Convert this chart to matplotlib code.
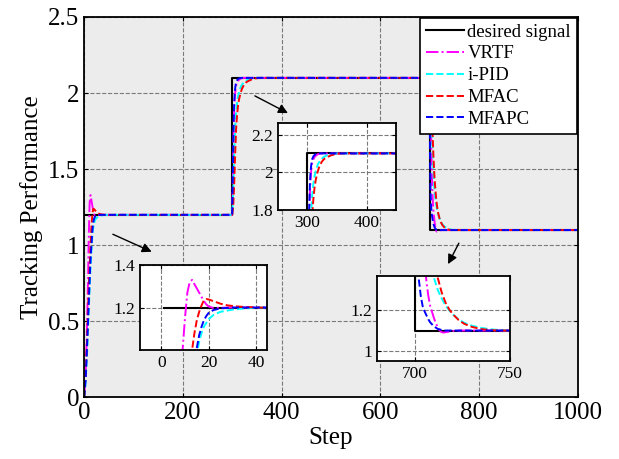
import matplotlib
matplotlib.use('Agg')
from matplotlib import pyplot as plt

plt.rcParams['font.family'] = ['Liberation Serif', 'DejaVu Serif']
plt.rcParams['mathtext.fontset'] = 'stix'

# desired reference signal
desired_x = [1, 300, 300, 700, 700, 1000]
desired_y = [1.2, 1.2, 2.1, 2.1, 1.1, 1.1]

# VRTF
vrtf_x = [0, 2, 4, 6, 8, 9, 10, 11, 12, 13, 14, 15, 16, 17, 18, 19, 20, 22, 25, 30,
          300, 301, 302, 303, 304, 305, 306, 307, 308, 310, 313, 317, 322,
          700, 702, 704, 705, 706, 707, 708, 709, 710, 711, 712, 713, 714, 715, 717, 720, 725, 1000]
vrtf_y = [0.0, 0.1, 0.25, 0.5, 0.8, 1.0, 1.15, 1.27, 1.32, 1.33, 1.31, 1.29, 1.27, 1.25, 1.23, 1.215, 1.205, 1.198, 1.199, 1.2,
          1.2, 1.35, 1.58, 1.76, 1.88, 1.95, 2.0, 2.03, 2.05, 2.07, 2.085, 2.095, 2.1,
          2.1, 1.9, 1.6, 1.45, 1.34, 1.27, 1.22, 1.19, 1.16, 1.135, 1.115, 1.1, 1.092, 1.09, 1.093, 1.098, 1.1, 1.1]

# i-PID
ipid_x = [0, 3, 6, 9, 12, 15, 16, 17, 18, 20, 22, 25, 30, 35, 42,
          300, 302, 304, 306, 308, 310, 312, 315, 318, 322, 327, 333, 340, 350,
          700, 702, 704, 706, 708, 710, 712, 714, 716, 718, 720, 723, 726, 730, 735, 740, 745, 750, 1000]
ipid_y = [0.0, 0.1, 0.3, 0.55, 0.8, 0.98, 1.04, 1.08, 1.11, 1.145, 1.165, 1.18, 1.19, 1.196, 1.2,
          1.2, 1.35, 1.6, 1.78, 1.88, 1.94, 1.98, 2.02, 2.045, 2.065, 2.08, 2.09, 2.095, 2.1,
          2.1, 2.0, 1.85, 1.65, 1.48, 1.36, 1.3, 1.26, 1.225, 1.2, 1.18, 1.155, 1.138, 1.124, 1.113, 1.106, 1.102, 1.1, 1.1]

# MFAC
mfac_x = [0, 3, 6, 9, 12, 13, 14, 15, 16, 17, 18, 19, 20, 22, 25, 28, 32, 36, 42,
          300, 302, 304, 306, 308, 310, 312, 314, 317, 320, 324, 328, 333, 340, 348, 358,
          700, 702, 704, 706, 708, 710, 712, 714, 716, 718, 720, 723, 726, 730, 735, 740, 745, 1000]
mfac_y = [0.0, 0.15, 0.4, 0.7, 0.93, 1.0, 1.08, 1.14, 1.18, 1.21, 1.235, 1.24, 1.238, 1.23, 1.218, 1.21, 1.205, 1.202, 1.2,
          1.2, 1.25, 1.4, 1.6, 1.77, 1.86, 1.92, 1.96, 2.0, 2.03, 2.055, 2.07, 2.08, 2.09, 2.097, 2.1,
          2.1, 2.05, 1.92, 1.75, 1.58, 1.45, 1.36, 1.29, 1.24, 1.205, 1.18, 1.152, 1.133, 1.118, 1.107, 1.102, 1.1, 1.1]

# MFAPC
mfapc_x = [0, 3, 6, 9, 12, 14, 15, 16, 17, 18, 19, 20, 22, 25, 30,
           300, 301, 302, 303, 304, 305, 306, 307, 308, 310, 313, 318,
           700, 701, 702, 703, 704, 705, 706, 707, 708, 710, 712, 715, 1000]
mfapc_y = [0.0, 0.12, 0.35, 0.6, 0.85, 0.97, 1.01, 1.07, 1.11, 1.14, 1.16, 1.175, 1.188, 1.196, 1.2,
           1.2, 1.4, 1.65, 1.82, 1.93, 1.99, 2.03, 2.055, 2.07, 2.085, 2.095, 2.1,
           2.1, 1.6, 1.35, 1.27, 1.22, 1.195, 1.175, 1.155, 1.14, 1.12, 1.108, 1.1, 1.1]

labels = ['desired signal', 'VRTF', 'i-PID', 'MFAC', 'MFAPC']


def draw_curves(ax):
    ax.plot(desired_x, desired_y, color='k', lw=1.5, label=labels[0])
    ax.plot(vrtf_x, vrtf_y, color='#ff00ff', ls='-.', lw=1.4, label=labels[1])
    ax.plot(ipid_x, ipid_y, color='#00ffff', ls='--', lw=1.4, label=labels[2])
    ax.plot(mfac_x, mfac_y, color='#ff0000', ls='--', lw=1.4, label=labels[3])
    ax.plot(mfapc_x, mfapc_y, color='#0000ff', ls='--', lw=1.4, label=labels[4])


def style(ax, fs):
    ax.grid(True, ls='--', color='#7a7a7a', lw=0.8)
    ax.tick_params(direction='in', top=True, right=True, labelsize=fs, length=3)
    for s in ax.spines.values():
        s.set_linewidth(1.3)


fig = plt.figure(figsize=(6.19, 4.59), dpi=100)
ax = fig.add_axes([0.136, 0.134, 0.797, 0.829])
ax.set_facecolor('#ececec')
draw_curves(ax)
style(ax, 18)
ax.set_xlim(0, 1000)
ax.set_ylim(0, 2.5)
ax.set_xticks([0, 200, 400, 600, 800, 1000])
ax.set_yticks([0, 0.5, 1, 1.5, 2, 2.5])
ax.set_yticklabels(['0', '0.5', '1', '1.5', '2', '2.5'])
ax.set_xlabel('Step', fontsize=18, labelpad=2)
ax.set_ylabel('Tracking Performance', fontsize=18, labelpad=4)
leg = ax.legend(loc='upper right', fontsize=13.5, handlelength=2.0, handletextpad=0.2,
                borderaxespad=0.05, labelspacing=0.25, fancybox=False, framealpha=1,
                borderpad=0.3)
leg.get_frame().set_edgecolor('k')
leg.get_frame().set_linewidth(1.2)

# arrows pointing at zoomed regions
arr = dict(arrowstyle='-|>', color='k', lw=1.0, mutation_scale=14)
ax.annotate('', xy=(142, 0.95), xytext=(53, 1.08), arrowprops=arr)
ax.annotate('', xy=(418, 1.86), xytext=(341, 1.99), arrowprops=arr)
ax.annotate('', xy=(735, 0.86), xytext=(762, 1.03), arrowprops=arr)

# inset 1
a1 = fig.add_axes([0.226, 0.2375, 0.205, 0.185])
draw_curves(a1)
style(a1, 12.5)
a1.set_xlim(-9, 44.5)
a1.set_ylim(1.0, 1.4)
a1.set_xticks([0, 20, 40])
a1.set_yticks([1.2, 1.4])

# inset 2
a2 = fig.add_axes([0.449, 0.5425, 0.191, 0.189])
draw_curves(a2)
style(a2, 12.5)
a2.set_xlim(250, 450)
a2.set_ylim(1.8, 2.26)
a2.set_xticks([300, 400])
a2.set_yticks([1.8, 2.0, 2.2])
a2.set_yticklabels(['1.8', '2', '2.2'])

# inset 3
a3 = fig.add_axes([0.6095, 0.214, 0.214, 0.1845])
draw_curves(a3)
style(a3, 12.5)
a3.set_xlim(680, 750)
a3.set_ylim(0.95, 1.37)
a3.set_xticks([700, 750])
a3.set_yticks([1.0, 1.2])
a3.set_yticklabels(['1', '1.2'])

fig.savefig('out.png', dpi=100)
